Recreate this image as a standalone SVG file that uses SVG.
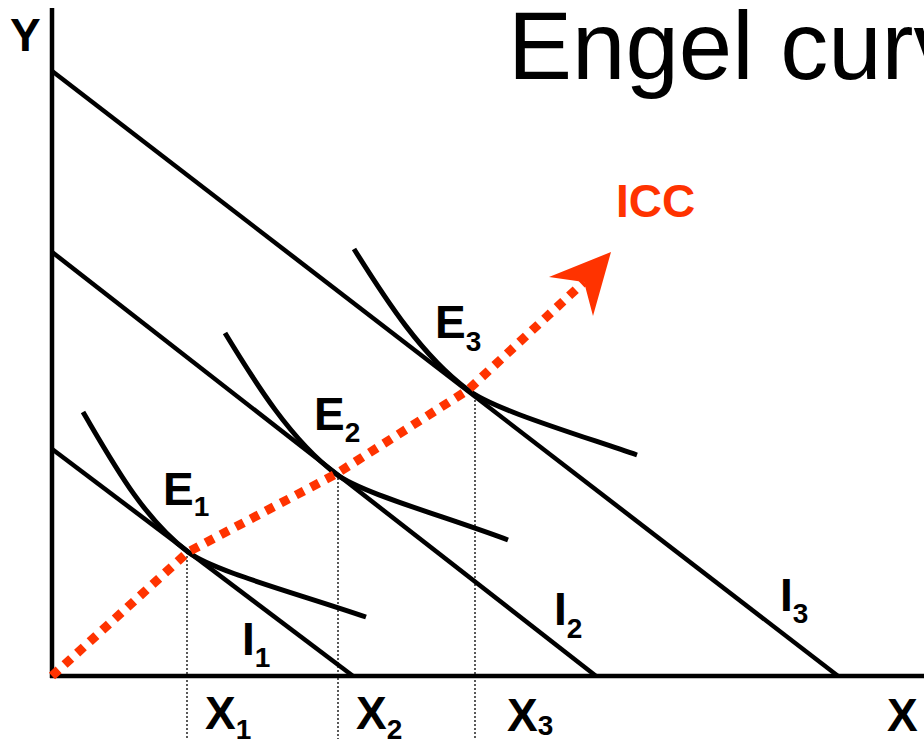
<svg xmlns="http://www.w3.org/2000/svg" width="924" height="739" viewBox="0 0 924 739">
<style>
.ln{fill:none;stroke:#000;stroke-width:4.5;stroke-linecap:butt}
.ic{fill:none;stroke:#000;stroke-width:5}
.dot{fill:none;stroke:#000;stroke-width:1.3;stroke-dasharray:2 2}
.icc{fill:none;stroke:#FF3300;stroke-width:9;stroke-dasharray:9 8}
.lb{font-family:"Liberation Sans",Arial,sans-serif;font-weight:bold;font-size:46px;fill:#000}
.sb{font-size:28px}
.title{font-family:"Liberation Sans",Arial,sans-serif;font-size:96px;fill:#000}
</style>
<rect width="924" height="739" fill="#fff"/>
<g id="title"><text class="title" x="508" y="79">Engel curve</text></g>
<g id="axes">
<line class="ln" x1="52" y1="8" x2="52" y2="678"/>
<line class="ln" x1="50" y1="676" x2="924" y2="676"/>
<text class="lb" x="10" y="51">Y</text>
<text class="lb" x="887" y="731">X</text>
</g>
<g id="budget-I1"><line class="ln" x1="52" y1="449" x2="353" y2="676"/><text class="lb" x="242" y="655">I<tspan class="sb" dy="12">1</tspan></text></g>
<g id="budget-I2"><line class="ln" x1="52" y1="252" x2="596" y2="676"/><text class="lb" x="554" y="625">I<tspan class="sb" dy="13">2</tspan></text></g>
<g id="budget-I3"><line class="ln" x1="52" y1="71" x2="838" y2="676"/><text class="lb" x="780" y="611">I<tspan class="sb" dy="12">3</tspan></text></g>
<g id="IC1"><path class="ic" d="M83,412 C113,463 143,518 188,552 C213,571 296,593 366,617"/></g>
<g id="IC2"><path class="ic" d="M225,333 C256,384 291,440 336,474 C361,493 444,516 508,540"/></g>
<g id="IC3"><path class="ic" d="M354,249 C386,300 422,356 468,390 C493,409 570,432 637,455"/></g>
<g id="guides">
<line class="dot" x1="187" y1="552" x2="187" y2="739"/>
<line class="dot" x1="338" y1="474" x2="338" y2="739"/>
<line class="dot" x1="475" y1="392" x2="475" y2="739"/>
</g>
<g id="connectors">
<polyline class="icc" points="52,676 188,552 336,474 468,390 584,282"/>
<polygon points="611,252 549,277 584,282 593,316" fill="#FF3300"/>
</g>
<g id="E1"><text class="lb" x="163" y="505">E<tspan class="sb" dy="11">1</tspan></text></g>
<g id="E2"><text class="lb" x="314" y="430">E<tspan class="sb" dy="12">2</tspan></text></g>
<g id="E3"><text class="lb" x="435" y="338">E<tspan class="sb" dy="13">3</tspan></text></g>
<g id="ICC-label"><text class="lb" x="616" y="217" fill="#FF3300" style="fill:#FF3300">ICC</text></g>
<g id="X1"><text class="lb" x="205" y="729">X<tspan class="sb" dy="10">1</tspan></text></g>
<g id="X2"><text class="lb" x="356" y="729">X<tspan class="sb" dy="10">2</tspan></text></g>
<g id="X3"><text class="lb" x="507" y="731">X<tspan class="sb" dy="4">3</tspan></text></g>
</svg>
